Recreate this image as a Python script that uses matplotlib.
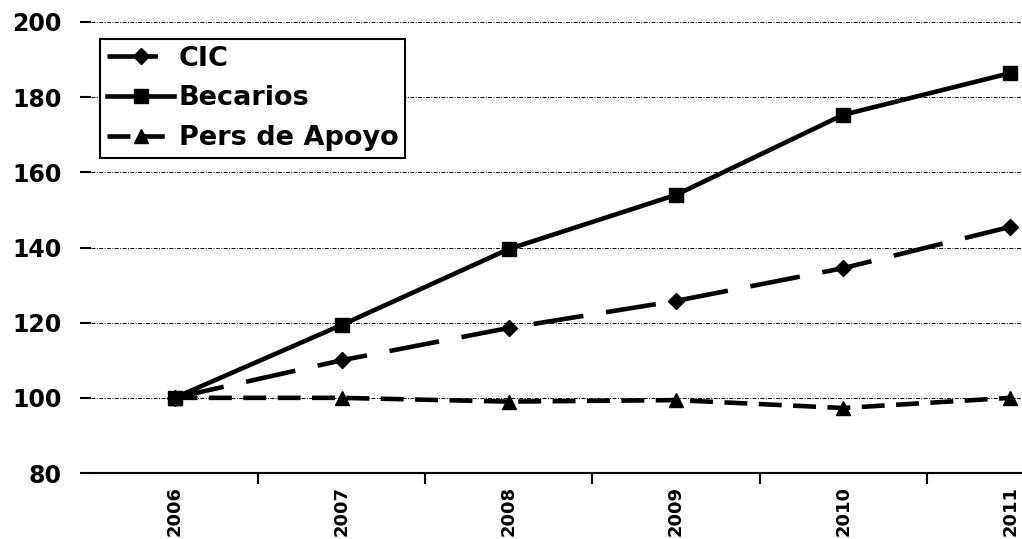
import matplotlib.pyplot as plt

# datos (indice base 2006 = 100)
years = ['2006', '2007', '2008', '2009', '2010', '2011']
cic = [100, 110, 118.6, 125.8, 134.5, 145.5]
becarios = [100, 119.4, 139.6, 154, 175.3, 186.4]
pers_apoyo = [100, 100, 99, 99.4, 97.3, 100]

plt.rcParams['font.family'] = ['DejaVu Sans']
plt.rcParams['font.weight'] = 'bold'

fig = plt.figure(figsize=(10.22, 5.39), dpi=100)
ax = fig.add_axes([0.089, 0.1224, 0.911, 0.8368])

x = range(len(years))
ax.plot(x, cic, color='black', lw=3.3, marker='D', ms=8, dashes=(11, 5), label='CIC')
ax.plot(x, becarios, color='black', lw=3.3, marker='s', ms=10, label='Becarios')
ax.plot(x, pers_apoyo, color='black', lw=3.3, marker='^', ms=10, dashes=(5, 2.5), label='Pers de Apoyo')

ax.set_ylim(80, 200)
ax.set_yticks(range(80, 201, 20))
ax.set_xlim(-0.5, 5.07)
ax.set_xticks(x)
ax.set_xticklabels(years, rotation=90, fontsize=13, fontweight='bold')
ax.set_xticks([i + 0.5 for i in range(0, 5)], minor=True)
ax.tick_params(axis='x', which='major', length=0, pad=9)
ax.tick_params(axis='x', which='minor', length=8, width=1.5, direction='out')
ax.tick_params(axis='y', length=8, width=1.5, labelsize=17, pad=13)
for lab in ax.get_yticklabels():
    lab.set_fontweight('bold')

# lineas de cuadricula punto-raya
for v in range(100, 201, 20):
    ax.axhline(v, color='black', lw=0.7, dashes=(4, 1.5, 1, 1.5), zorder=0)

ax.spines['top'].set_visible(False)
ax.spines['right'].set_visible(False)
ax.spines['left'].set_visible(False)
ax.spines['bottom'].set_linewidth(1.5)

leg = ax.legend(loc='upper left', bbox_to_anchor=(0.0097, 0.962), borderaxespad=0,
                frameon=True, fancybox=False, edgecolor='black', framealpha=1,
                handlelength=2.5, borderpad=0.25, labelspacing=0.5, handletextpad=0.15,
                prop={'weight': 'bold', 'size': 19.5})
leg.get_frame().set_linewidth(1.5)

plt.savefig('out.png', dpi=100)
